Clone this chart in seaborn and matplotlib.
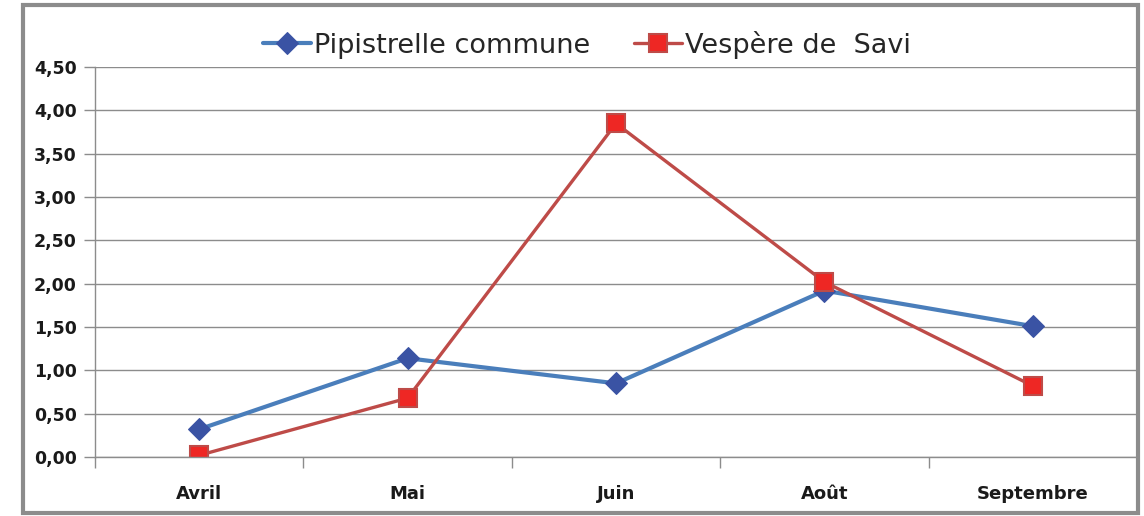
import numpy as np
import pandas as pd
import matplotlib
matplotlib.use("Agg")
import matplotlib.pyplot as plt
import matplotlib.ticker as ticker
from matplotlib.patches import Rectangle
import seaborn as sns

# data
mois = ["Avril", "Mai", "Juin", "Août", "Septembre"]
pipistrelle = [0.32, 1.14, 0.85, 1.92, 1.51]
vespere = [0.02, 0.68, 3.85, 2.02, 0.82]
series_names = ["Pipistrelle commune", "Vespère de  Savi"]

df = pd.DataFrame({
    "x": list(range(len(mois))) * 2,
    "val": pipistrelle + vespere,
    "serie": [series_names[0]] * len(mois) + [series_names[1]] * len(mois),
})

sns.set_theme(style="white")
plt.rcParams["font.family"] = ["DejaVu Sans"]

fig = plt.figure(figsize=(11.44, 5.16), dpi=100)
ax = fig.add_axes([0.083, 0.1143, 0.911, 0.7557])

# blue series
sns.lineplot(data=df[df.serie == series_names[0]], x="x", y="val", ax=ax,
             color="#4A7EBB", linewidth=3.0, marker="D", markersize=11,
             markerfacecolor="#3A53A4", markeredgecolor="#3A53A4",
             label=series_names[0])
# red series
sns.lineplot(data=df[df.serie == series_names[1]], x="x", y="val", ax=ax,
             color="#BE4B48", linewidth=2.4, marker="s", markersize=13,
             markerfacecolor="#EE2724", markeredgecolor="#BE4B48",
             markeredgewidth=1.5, label=series_names[1])

ax.set_xlim(-0.5, len(mois) - 0.5)
ax.set_ylim(0, 4.5)
ax.yaxis.set_major_locator(ticker.MultipleLocator(0.5))
ax.yaxis.set_major_formatter(ticker.FuncFormatter(lambda v, p: f"{v:.2f}".replace(".", ",")))
ax.grid(axis="y", color="#8C8C8C", linewidth=1)
ax.set_axisbelow(True)

# category labels centered, tick marks on boundaries
ax.set_xticks(range(len(mois)))
ax.set_xticklabels(mois)
ax.xaxis.set_minor_locator(ticker.FixedLocator(np.arange(-0.5, len(mois), 1)))
ax.tick_params(axis="x", which="both", bottom=True)
ax.tick_params(axis="y", which="both", left=True)
ax.tick_params(axis="x", which="major", length=0, pad=20, labelsize=13, labelcolor="#1a1a1a")
ax.tick_params(axis="x", which="minor", length=8, width=1, color="#8C8C8C", direction="out")
ax.tick_params(axis="y", length=8, width=1, color="#8C8C8C", direction="out",
               labelsize=12.5, labelcolor="#1a1a1a", pad=5)
for lab in ax.get_xticklabels() + ax.get_yticklabels():
    lab.set_fontweight("bold")

for s in ["top", "right"]:
    ax.spines[s].set_visible(False)
for s in ["left", "bottom"]:
    ax.spines[s].set_color("#8C8C8C")
    ax.spines[s].set_linewidth(1)
ax.set_xlabel("")
ax.set_ylabel("")

ax.get_legend().remove()
handles, labels = ax.get_legend_handles_labels()
fig.legend(handles, labels, loc="center", bbox_to_anchor=(0.513, 0.913), ncol=2,
           frameon=False, fontsize=19.5, handlelength=1.8, handletextpad=0.1,
           columnspacing=1.6)

# outer chart frame
fig.patches.append(Rectangle((0.02, 0.005), 0.975, 0.985, transform=fig.transFigure,
                             fill=False, edgecolor="#8C8C8C", linewidth=3))

fig.savefig("out.png", dpi=100)
